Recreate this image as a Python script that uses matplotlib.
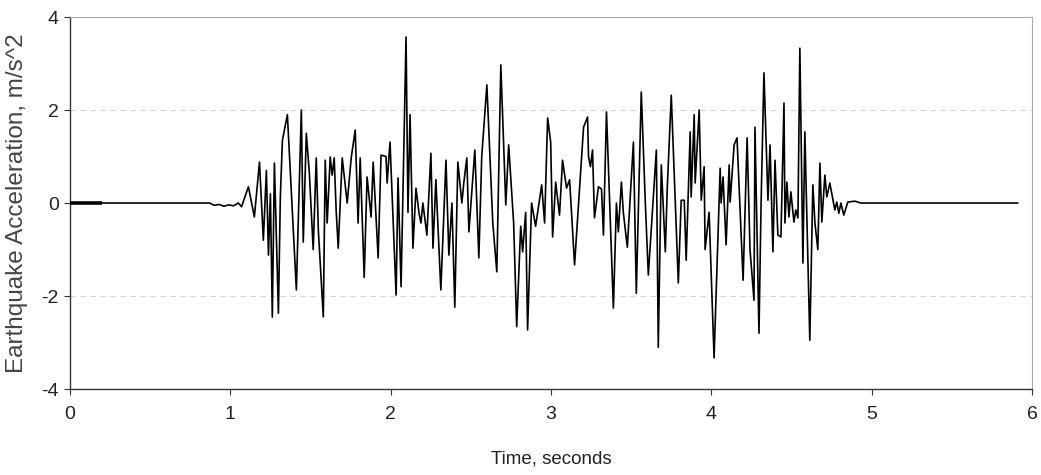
import numpy as np
from matplotlib import pyplot as plt
from matplotlib import font_manager

# time (s) and acceleration (m/s^2)
t_pts = [0.0, 0.871, 0.90, 0.93, 0.96, 0.99, 1.02, 1.05, 1.07, 1.088, 1.113,
         1.150, 1.182, 1.206, 1.225, 1.238, 1.250, 1.262, 1.275, 1.300, 1.312,
         1.325, 1.356, 1.412, 1.443, 1.455, 1.474, 1.493, 1.517, 1.536, 1.549,
         1.580, 1.592, 1.604, 1.623, 1.635, 1.648, 1.660, 1.673, 1.698, 1.729,
         1.754, 1.779, 1.797, 1.810, 1.835, 1.853, 1.878, 1.891, 1.922, 1.940,
         1.971, 1.978, 1.996, 2.034, 2.046, 2.065, 2.096, 2.108, 2.121, 2.139,
         2.158, 2.177, 2.189, 2.201, 2.226, 2.251, 2.264, 2.282, 2.313, 2.345,
         2.363, 2.382, 2.400, 2.419, 2.444, 2.456, 2.475, 2.488, 2.525, 2.550,
         2.568, 2.600, 2.637, 2.662, 2.687, 2.718, 2.736, 2.767, 2.786, 2.811,
         2.823, 2.842, 2.854, 2.879, 2.904, 2.942, 2.960, 2.979, 2.998, 3.010,
         3.029, 3.053, 3.072, 3.097, 3.116, 3.147, 3.203, 3.228, 3.234, 3.246,
         3.259, 3.271, 3.296, 3.315, 3.327, 3.346, 3.389, 3.408, 3.420, 3.439,
         3.451, 3.476, 3.514, 3.532, 3.563, 3.588, 3.607, 3.657, 3.669, 3.688,
         3.713, 3.725, 3.750, 3.794, 3.812, 3.831, 3.843, 3.868, 3.874, 3.893,
         3.899, 3.924, 3.937, 3.955, 3.961, 3.986, 4.017, 4.055, 4.061, 4.073,
         4.092, 4.111, 4.117, 4.142, 4.160, 4.198, 4.223, 4.241, 4.266, 4.272,
         4.297, 4.310, 4.328, 4.353, 4.366, 4.384, 4.397, 4.415, 4.434, 4.453,
         4.459, 4.471, 4.484, 4.496, 4.515, 4.527, 4.540, 4.552, 4.571, 4.583,
         4.614, 4.633, 4.646, 4.664, 4.677, 4.689, 4.708, 4.720, 4.739, 4.770,
         4.782, 4.795, 4.808, 4.826, 4.851, 4.894, 4.932, 5.91]
acc_pts = [0.0, 0.0, -0.05, -0.03, -0.07, -0.04, -0.06, 0.0, -0.08, 0.10, 0.35,
           -0.30, 0.88, -0.80, 0.70, -1.12, 0.20, -2.45, 0.86, -2.37, 0.13,
           1.35, 1.90, -1.87, 2.00, -0.84, 1.50, 0.64, -1.00, 0.97, -0.58,
           -2.45, 0.92, -0.43, 0.99, 0.60, 0.97, -0.15, -0.97, 0.97, 0.00,
           0.97, 1.57, -0.43, 0.97, -1.60, 0.56, -0.30, 0.88, -1.18, 1.03,
           1.00, 0.43, 1.31, -1.98, 0.54, -1.80, 3.57, -0.20, 1.90, -0.97,
           0.32, -0.22, -0.43, 0.00, -0.69, 1.07, -0.97, 0.50, -1.87, 0.92,
           -1.12, 0.00, -2.24, 0.88, 0.00, 0.43, 0.97, -0.62, 1.14, -1.18,
           1.00, 2.54, -0.43, -1.48, 2.97, -0.04, 1.25, -0.43, -2.66, -0.50,
           -1.05, -0.20, -2.73, 0.00, -0.50, 0.39, -0.43, 1.83, 1.31, -0.73,
           0.45, -0.26, 0.92, 0.32, 0.50, -1.33, 1.63, 1.85, 1.00, 0.78,
           1.14, -0.32, 0.35, 0.30, -0.69, 1.96, -2.26, 0.00, -0.62, 0.45,
           -0.20, -0.95, 1.31, -1.94, 2.39, 0.02, -1.55, 1.14, -3.10, 0.82,
           -1.05, 0.32, 2.32, -1.72, 0.06, 0.06, -1.23, 1.53, 0.13, 1.90,
           0.43, 2.00, 0.06, 0.78, -1.00, -0.20, -3.33, 0.75, 0.00, 0.56,
           -0.90, 0.82, 0.02, 1.25, 1.40, -1.66, 1.40, -1.00, -2.09, 1.63,
           -2.80, -0.04, 2.80, 0.06, 1.25, -1.05, 0.92, -0.69, -0.73, 2.15,
           -0.43, 0.45, -0.30, 0.24, -0.41, -0.15, -0.32, 3.33, -1.29, 1.53,
           -2.95, 0.39, -0.43, -1.00, 0.86, -0.41, 0.60, 0.13, 0.43, -0.15,
           0.02, -0.22, 0.00, -0.26, 0.02, 0.04, 0.00, 0.00]

# short bold stretch at the start of the record
lead_t = [0.0, 0.2]
lead_a = [0.0, 0.0]

x_ticks = [0, 1, 2, 3, 4, 5, 6]
y_ticks = [-4, -2, 0, 2, 4]
grid_levels = [-2, 2]

plt.rcParams['font.family'] = ['Liberation Sans', 'DejaVu Sans']
plt.rcParams['axes.unicode_minus'] = False

fig = plt.figure(figsize=(10.41, 4.75), dpi=100)
ax = fig.add_axes([0.0672, 0.181, 0.9242, 0.7832])

for lv in grid_levels:
    ax.axhline(lv, color='#d4d4d4', lw=0.8, ls=(0, (5, 4)), zorder=1)

ax.plot(t_pts, acc_pts, '-', color='black', lw=1.2, zorder=3)
ax.plot(lead_t, lead_a, '-', color='black', lw=2.6, solid_capstyle='butt', zorder=3)

ax.set_xlim(0, 6)
ax.set_ylim(-4, 4)
ax.set_xticks(x_ticks)
ax.set_yticks(y_ticks)
ax.tick_params(axis='both', direction='out', length=4, width=0.8, color='#333333',
               labelsize=14, labelcolor='#222222')
ax.tick_params(axis='x', pad=8)
ax.tick_params(axis='y', pad=4)

for s in ['left', 'bottom']:
    ax.spines[s].set_color('#333333')
    ax.spines[s].set_linewidth(1.0)
for s in ['top', 'right']:
    ax.spines[s].set_color('#a8a8a8')
    ax.spines[s].set_linewidth(0.8)

ax.set_xlabel('Time, seconds', fontsize=13.5, color='#222222', labelpad=20)
ax.set_ylabel('Earthquake Acceleration, m/s^2', fontsize=17.5, color='#444444')
ax.yaxis.set_label_coords(-0.044, 0.5)

fig.savefig('out.png', dpi=100)
plt.close()
